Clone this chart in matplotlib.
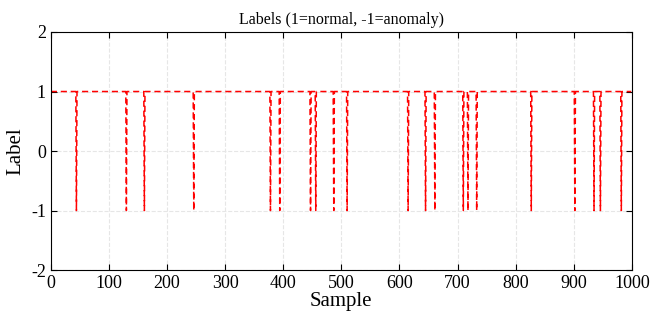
import numpy as np
import matplotlib.pyplot as plt

plt.rcParams['font.family'] = ['Liberation Serif', 'DejaVu Serif']
plt.rcParams['axes.unicode_minus'] = False

n_samples = 1000
# indices flagged as anomalies (-1), everything else is normal (1)
anomaly_idx = [44, 130, 161, 246, 378, 394, 447, 456, 487, 510, 615,
               645, 661, 710, 718, 733, 827, 902, 935, 946, 982]

labels = np.ones(n_samples)
labels[anomaly_idx] = -1
samples = np.arange(n_samples)

fig = plt.figure(figsize=(6.52, 3.2), dpi=100)
ax = fig.add_axes([0.078, 0.156, 0.891, 0.744])
ax.plot(samples, labels, color='red', linestyle='--', linewidth=1.1, dashes=(4, 2.5))

ax.set_xlim(0, 1000)
ax.set_ylim(-2, 2)
ax.set_xticks(np.arange(0, 1001, 100))
ax.set_yticks([-2, -1, 0, 1, 2])
ax.grid(True, linestyle='--', color='#e6e6e6', linewidth=0.8)
ax.tick_params(direction='in', top=True, right=True, labelsize=13, length=4)
ax.set_title('Labels (1=normal, -1=anomaly)', fontsize=11.5)
ax.set_xlabel('Sample', fontsize=15, labelpad=0)
ax.set_ylabel('Label', fontsize=15)

fig.savefig('out.png', dpi=100)
